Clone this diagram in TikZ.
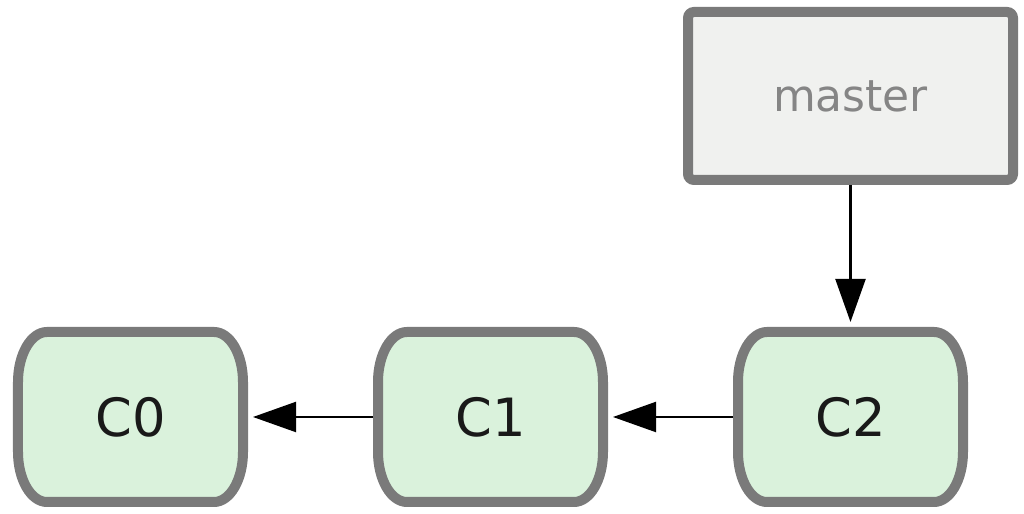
\documentclass[tikz,border=0pt]{standalone}
\usepackage{fontspec}
\newfontfamily\labelfont{DejaVu Sans}
\usetikzlibrary{arrows.meta,backgrounds}
\definecolor{commitfill}{RGB}{218,242,220}
\definecolor{branchfill}{RGB}{240,241,239}
\definecolor{framegray}{RGB}{122,122,122}
\definecolor{branchtext}{RGB}{133,133,133}
\definecolor{committext}{RGB}{25,25,25}
% outline of a commit: flat top and bottom, elliptic corners
\newcommand\drawcommitshape[1]{%
  \path[commitframe]
    ([xshift=-2.9mm]#1.north east) arc[start angle=90,end angle=0,x radius=2.9mm,y radius=5mm]
    -- ([yshift=5mm]#1.south east) arc[start angle=0,end angle=-90,x radius=2.9mm,y radius=5mm]
    -- ([xshift=2.9mm]#1.south west) arc[start angle=270,end angle=180,x radius=2.9mm,y radius=5mm]
    -- ([yshift=-5mm]#1.north west) arc[start angle=180,end angle=90,x radius=2.9mm,y radius=5mm]
    -- cycle;}
\begin{document}
\begin{tikzpicture}[
  commit/.style={minimum width=2.25cm,minimum height=1.70cm,inner sep=0pt,outer sep=0pt,
    font=\labelfont\fontsize{15}{18}\selectfont,text=committext},
  commitframe/.style={draw=framegray,fill=commitfill,line width=1mm},
  branch/.style={draw=framegray,fill=branchfill,line width=1mm,rounded corners=0.6mm,
    minimum width=3.25cm,minimum height=1.68cm,inner sep=0pt,outer sep=0.5mm,
    font=\labelfont\fontsize{12.5}{15}\selectfont,text=branchtext},
  parent/.style={-{Triangle[length=4.3mm,width=3mm]},line width=0.6pt,
    shorten <=0.5mm,shorten >=1mm}
]
\useasboundingbox (0,0) rectangle (10.24,5.14);

\node[commit] (c0) at (1.305,0.97) {C0};
\node[commit] (c1) at (4.905,0.97) {C1};
\node[commit] (c2) at (8.505,0.97) {C2};
\node[branch] (master) at (8.505,4.18) {master};

\begin{scope}[on background layer]
  \drawcommitshape{c0}
  \drawcommitshape{c1}
  \drawcommitshape{c2}
\end{scope}

\draw[parent] (c2) -- (c1);
\draw[parent] (c1) -- (c0);
\draw[parent,shorten <=0pt] (master) -- (c2);
\end{tikzpicture}
\end{document}
